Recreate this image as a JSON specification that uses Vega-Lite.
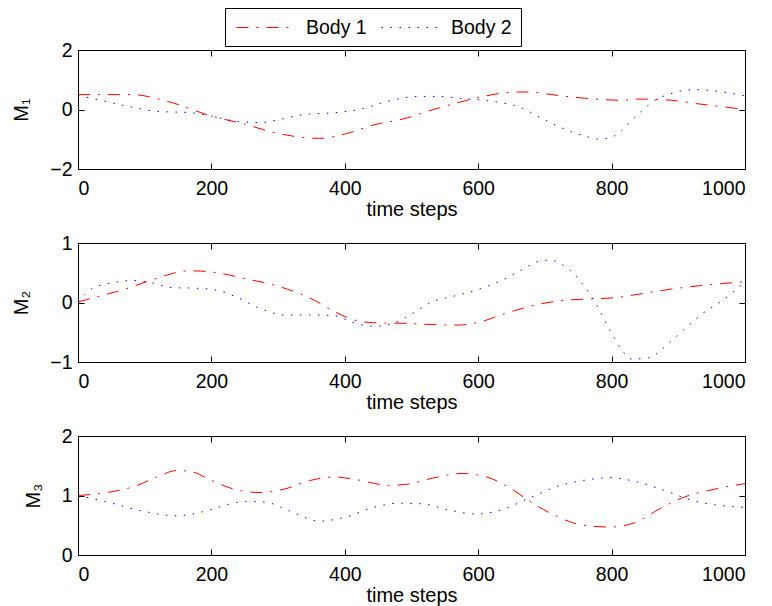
{
  "$schema": "https://vega.github.io/schema/vega-lite/v6.json",
  "padding": {"left": 11, "top": 7, "right": 4, "bottom": 4},
  "background": "white",
  "config": {
    "font": "Liberation Sans",
    "view": {"stroke": "#000000", "strokeWidth": 1},
    "axis": {
      "labelFont": "Liberation Sans", "labelFontSize": 19.5, "labelColor": "#000000",
      "titleFont": "Liberation Sans", "titleFontSize": 20, "titleFontWeight": "normal", "titleColor": "#000000",
      "grid": false, "domain": false, "tickColor": "#000000", "tickSize": -6, "tickWidth": 1,
      "labelPadding": 12
    },
    "axisX": {"labelPadding": 16, "titlePadding": 2, "format": "d"},
    "axisY": {"titlePadding": 18, "format": "d"},
    "line": {"strokeWidth": 1}
  },
  "datasets": {
    "m1": [
      {"t": 0, "v": 0.5, "body": "Body 1"}, {"t": 81, "v": 0.5, "body": "Body 1"}, {"t": 133, "v": 0.28, "body": "Body 1"},
      {"t": 200, "v": -0.22, "body": "Body 1"}, {"t": 251, "v": -0.5, "body": "Body 1"}, {"t": 295, "v": -0.78, "body": "Body 1"},
      {"t": 362, "v": -0.97, "body": "Body 1"}, {"t": 399, "v": -0.83, "body": "Body 1"}, {"t": 443, "v": -0.52, "body": "Body 1"},
      {"t": 494, "v": -0.28, "body": "Body 1"}, {"t": 524, "v": -0.06, "body": "Body 1"}, {"t": 568, "v": 0.22, "body": "Body 1"},
      {"t": 598, "v": 0.39, "body": "Body 1"}, {"t": 650, "v": 0.58, "body": "Body 1"}, {"t": 672, "v": 0.59, "body": "Body 1"},
      {"t": 731, "v": 0.44, "body": "Body 1"}, {"t": 790, "v": 0.33, "body": "Body 1"}, {"t": 812, "v": 0.31, "body": "Body 1"},
      {"t": 841, "v": 0.35, "body": "Body 1"}, {"t": 878, "v": 0.33, "body": "Body 1"}, {"t": 930, "v": 0.19, "body": "Body 1"},
      {"t": 1000, "v": 0.0, "body": "Body 1"},
      {"t": 0, "v": 0.47, "body": "Body 2"}, {"t": 30, "v": 0.33, "body": "Body 2"}, {"t": 74, "v": 0.11, "body": "Body 2"},
      {"t": 118, "v": -0.06, "body": "Body 2"}, {"t": 170, "v": -0.11, "body": "Body 2"}, {"t": 200, "v": -0.22, "body": "Body 2"},
      {"t": 236, "v": -0.39, "body": "Body 2"}, {"t": 273, "v": -0.44, "body": "Body 2"}, {"t": 303, "v": -0.33, "body": "Body 2"},
      {"t": 339, "v": -0.17, "body": "Body 2"}, {"t": 384, "v": -0.11, "body": "Body 2"}, {"t": 421, "v": 0.0, "body": "Body 2"},
      {"t": 465, "v": 0.28, "body": "Body 2"}, {"t": 509, "v": 0.44, "body": "Body 2"}, {"t": 539, "v": 0.44, "body": "Body 2"},
      {"t": 576, "v": 0.37, "body": "Body 2"}, {"t": 620, "v": 0.28, "body": "Body 2"}, {"t": 664, "v": 0.06, "body": "Body 2"},
      {"t": 694, "v": -0.28, "body": "Body 2"}, {"t": 731, "v": -0.67, "body": "Body 2"}, {"t": 768, "v": -0.94, "body": "Body 2"},
      {"t": 782, "v": -1.0, "body": "Body 2"}, {"t": 804, "v": -0.89, "body": "Body 2"}, {"t": 834, "v": -0.28, "body": "Body 2"},
      {"t": 863, "v": 0.28, "body": "Body 2"}, {"t": 893, "v": 0.56, "body": "Body 2"}, {"t": 923, "v": 0.67, "body": "Body 2"},
      {"t": 952, "v": 0.63, "body": "Body 2"}, {"t": 1000, "v": 0.46, "body": "Body 2"}
    ],
    "m2": [
      {"t": 0, "v": 0.01, "body": "Body 1"}, {"t": 30, "v": 0.1, "body": "Body 1"}, {"t": 66, "v": 0.21, "body": "Body 1"},
      {"t": 103, "v": 0.35, "body": "Body 1"}, {"t": 133, "v": 0.46, "body": "Body 1"}, {"t": 162, "v": 0.53, "body": "Body 1"},
      {"t": 177, "v": 0.53, "body": "Body 1"}, {"t": 214, "v": 0.49, "body": "Body 1"}, {"t": 251, "v": 0.4, "body": "Body 1"},
      {"t": 295, "v": 0.29, "body": "Body 1"}, {"t": 325, "v": 0.18, "body": "Body 1"}, {"t": 354, "v": 0.04, "body": "Body 1"},
      {"t": 384, "v": -0.15, "body": "Body 1"}, {"t": 413, "v": -0.29, "body": "Body 1"}, {"t": 443, "v": -0.34, "body": "Body 1"},
      {"t": 487, "v": -0.35, "body": "Body 1"}, {"t": 531, "v": -0.37, "body": "Body 1"}, {"t": 568, "v": -0.38, "body": "Body 1"},
      {"t": 598, "v": -0.34, "body": "Body 1"}, {"t": 642, "v": -0.18, "body": "Body 1"}, {"t": 679, "v": -0.06, "body": "Body 1"},
      {"t": 723, "v": 0.03, "body": "Body 1"}, {"t": 768, "v": 0.06, "body": "Body 1"}, {"t": 804, "v": 0.08, "body": "Body 1"},
      {"t": 841, "v": 0.14, "body": "Body 1"}, {"t": 886, "v": 0.22, "body": "Body 1"}, {"t": 930, "v": 0.28, "body": "Body 1"},
      {"t": 1000, "v": 0.35, "body": "Body 1"},
      {"t": 0, "v": 0.01, "body": "Body 2"}, {"t": 22, "v": 0.24, "body": "Body 2"}, {"t": 52, "v": 0.33, "body": "Body 2"},
      {"t": 81, "v": 0.37, "body": "Body 2"}, {"t": 111, "v": 0.33, "body": "Body 2"}, {"t": 140, "v": 0.25, "body": "Body 2"},
      {"t": 177, "v": 0.24, "body": "Body 2"}, {"t": 207, "v": 0.21, "body": "Body 2"}, {"t": 236, "v": 0.1, "body": "Body 2"},
      {"t": 273, "v": -0.1, "body": "Body 2"}, {"t": 310, "v": -0.21, "body": "Body 2"}, {"t": 347, "v": -0.21, "body": "Body 2"},
      {"t": 384, "v": -0.22, "body": "Body 2"}, {"t": 413, "v": -0.34, "body": "Body 2"}, {"t": 443, "v": -0.4, "body": "Body 2"},
      {"t": 472, "v": -0.35, "body": "Body 2"}, {"t": 502, "v": -0.18, "body": "Body 2"}, {"t": 531, "v": 0.01, "body": "Body 2"},
      {"t": 561, "v": 0.1, "body": "Body 2"}, {"t": 598, "v": 0.21, "body": "Body 2"}, {"t": 635, "v": 0.37, "body": "Body 2"},
      {"t": 664, "v": 0.54, "body": "Body 2"}, {"t": 694, "v": 0.7, "body": "Body 2"}, {"t": 708, "v": 0.71, "body": "Body 2"},
      {"t": 731, "v": 0.6, "body": "Body 2"}, {"t": 760, "v": 0.26, "body": "Body 2"}, {"t": 782, "v": -0.13, "body": "Body 2"},
      {"t": 797, "v": -0.46, "body": "Body 2"}, {"t": 815, "v": -0.79, "body": "Body 2"}, {"t": 830, "v": -0.95, "body": "Body 2"},
      {"t": 856, "v": -0.93, "body": "Body 2"}, {"t": 878, "v": -0.76, "body": "Body 2"}, {"t": 908, "v": -0.46, "body": "Body 2"},
      {"t": 937, "v": -0.18, "body": "Body 2"}, {"t": 967, "v": 0.04, "body": "Body 2"}, {"t": 1000, "v": 0.35, "body": "Body 2"}
    ],
    "m3": [
      {"t": 0, "v": 1.0, "body": "Body 1"}, {"t": 44, "v": 1.05, "body": "Body 1"}, {"t": 89, "v": 1.17, "body": "Body 1"},
      {"t": 118, "v": 1.31, "body": "Body 1"}, {"t": 148, "v": 1.42, "body": "Body 1"}, {"t": 170, "v": 1.4, "body": "Body 1"},
      {"t": 199, "v": 1.26, "body": "Body 1"}, {"t": 236, "v": 1.1, "body": "Body 1"}, {"t": 273, "v": 1.05, "body": "Body 1"},
      {"t": 310, "v": 1.11, "body": "Body 1"}, {"t": 347, "v": 1.25, "body": "Body 1"}, {"t": 384, "v": 1.31, "body": "Body 1"},
      {"t": 421, "v": 1.26, "body": "Body 1"}, {"t": 465, "v": 1.17, "body": "Body 1"}, {"t": 494, "v": 1.19, "body": "Body 1"},
      {"t": 531, "v": 1.29, "body": "Body 1"}, {"t": 576, "v": 1.37, "body": "Body 1"}, {"t": 613, "v": 1.31, "body": "Body 1"},
      {"t": 650, "v": 1.11, "body": "Body 1"}, {"t": 679, "v": 0.89, "body": "Body 1"}, {"t": 716, "v": 0.66, "body": "Body 1"},
      {"t": 753, "v": 0.51, "body": "Body 1"}, {"t": 797, "v": 0.47, "body": "Body 1"}, {"t": 834, "v": 0.54, "body": "Body 1"},
      {"t": 871, "v": 0.77, "body": "Body 1"}, {"t": 908, "v": 0.97, "body": "Body 1"}, {"t": 952, "v": 1.1, "body": "Body 1"},
      {"t": 1000, "v": 1.2, "body": "Body 1"},
      {"t": 0, "v": 1.0, "body": "Body 2"}, {"t": 44, "v": 0.89, "body": "Body 2"}, {"t": 96, "v": 0.74, "body": "Body 2"},
      {"t": 148, "v": 0.66, "body": "Body 2"}, {"t": 192, "v": 0.74, "body": "Body 2"}, {"t": 229, "v": 0.86, "body": "Body 2"},
      {"t": 251, "v": 0.9, "body": "Body 2"}, {"t": 280, "v": 0.89, "body": "Body 2"}, {"t": 317, "v": 0.74, "body": "Body 2"},
      {"t": 362, "v": 0.57, "body": "Body 2"}, {"t": 399, "v": 0.63, "body": "Body 2"}, {"t": 443, "v": 0.8, "body": "Body 2"},
      {"t": 480, "v": 0.87, "body": "Body 2"}, {"t": 517, "v": 0.86, "body": "Body 2"}, {"t": 554, "v": 0.76, "body": "Body 2"},
      {"t": 598, "v": 0.69, "body": "Body 2"}, {"t": 635, "v": 0.76, "body": "Body 2"}, {"t": 679, "v": 0.97, "body": "Body 2"},
      {"t": 723, "v": 1.17, "body": "Body 2"}, {"t": 768, "v": 1.27, "body": "Body 2"}, {"t": 797, "v": 1.3, "body": "Body 2"},
      {"t": 834, "v": 1.24, "body": "Body 2"}, {"t": 878, "v": 1.09, "body": "Body 2"}, {"t": 923, "v": 0.91, "body": "Body 2"},
      {"t": 1000, "v": 0.8, "body": "Body 2"}
    ]
  },
  "resolve": {"legend": {"color": "independent", "strokeDash": "independent"}},
  "spacing": 74,
  "bounds": "flush",
  "vconcat": [
    {
      "width": 667, "height": 119,
      "layer": [
        {
          "data": {"name": "m1"},
          "mark": {"type": "line", "interpolate": "monotone", "strokeWidth": 1},
          "encoding": {
            "x": {"field": "t", "type": "quantitative", "scale": {"domain": [0, 1000], "nice": false}, "axis": {"values": [0, 200, 400, 600, 800, 1000], "title": "time steps"}},
            "y": {"field": "v", "type": "quantitative", "scale": {"domain": [-2, 2], "nice": false, "zero": false}, "axis": {"values": [-2, 0, 2], "title": "M₁"}},
            "color": {"field": "body", "type": "nominal", "scale": {"domain": ["Body 1", "Body 2"], "range": ["#ff0000", "#0000ff"]},
              "legend": {"orient": "none", "legendX": 147, "legendY": -42, "direction": "horizontal", "title": null,
                "symbolType": "M-3,0H3", "symbolSize": 400, "symbolOffset": 22, "symbolStrokeWidth": 1,
                "labelFontSize": 19.5, "labelFont": "Liberation Sans", "labelColor": "#000000",
                "strokeColor": "#000000", "fillColor": "#ffffff", "padding": 9, "columnPadding": 12, "labelOffset": 29}},
            "strokeDash": {"field": "body", "type": "nominal", "scale": {"domain": ["Body 1", "Body 2"], "range": [[12, 8, 2, 8], [1.5, 7.5]]},
              "legend": {"orient": "none", "legendX": 147, "legendY": -42, "direction": "horizontal", "title": null,
                "symbolType": "M-3,0H3", "symbolSize": 400, "symbolOffset": 22, "symbolStrokeWidth": 1,
                "labelFontSize": 19.5, "labelFont": "Liberation Sans", "labelColor": "#000000",
                "strokeColor": "#000000", "fillColor": "#ffffff", "padding": 9, "columnPadding": 12, "labelOffset": 29}}
          }
        },
        {
          "data": {"name": "m1"},
          "mark": {"type": "point", "opacity": 0},
          "encoding": {
            "x": {"field": "t", "type": "quantitative", "axis": {"orient": "top", "values": [0, 200, 400, 600, 800, 1000], "labels": false, "title": null}},
            "y": {"field": "v", "type": "quantitative", "axis": {"orient": "right", "values": [-2, 0, 2], "labels": false, "title": null}}
          }
        }
      ],
      "resolve": {"axis": {"x": "independent", "y": "independent"}}
    },
    {
      "width": 667, "height": 119,
      "layer": [
        {
          "data": {"name": "m2"},
          "mark": {"type": "line", "interpolate": "monotone", "strokeWidth": 1},
          "encoding": {
            "x": {"field": "t", "type": "quantitative", "scale": {"domain": [0, 1000], "nice": false}, "axis": {"values": [0, 200, 400, 600, 800, 1000], "title": "time steps"}},
            "y": {"field": "v", "type": "quantitative", "scale": {"domain": [-1, 1], "nice": false, "zero": false}, "axis": {"values": [-1, 0, 1], "title": "M₂"}},
            "color": {"field": "body", "type": "nominal", "scale": {"domain": ["Body 1", "Body 2"], "range": ["#ff0000", "#0000ff"]}, "legend": null},
            "strokeDash": {"field": "body", "type": "nominal", "scale": {"domain": ["Body 1", "Body 2"], "range": [[12, 8, 2, 8], [1.5, 7.5]]}, "legend": null}
          }
        },
        {
          "data": {"name": "m2"},
          "mark": {"type": "point", "opacity": 0},
          "encoding": {
            "x": {"field": "t", "type": "quantitative", "axis": {"orient": "top", "values": [0, 200, 400, 600, 800, 1000], "labels": false, "title": null}},
            "y": {"field": "v", "type": "quantitative", "axis": {"orient": "right", "values": [-1, 0, 1], "labels": false, "title": null}}
          }
        }
      ],
      "resolve": {"axis": {"x": "independent", "y": "independent"}}
    },
    {
      "width": 667, "height": 119,
      "layer": [
        {
          "data": {"name": "m3"},
          "mark": {"type": "line", "interpolate": "monotone", "strokeWidth": 1},
          "encoding": {
            "x": {"field": "t", "type": "quantitative", "scale": {"domain": [0, 1000], "nice": false}, "axis": {"values": [0, 200, 400, 600, 800, 1000], "title": "time steps"}},
            "y": {"field": "v", "type": "quantitative", "scale": {"domain": [0, 2], "nice": false, "zero": false}, "axis": {"values": [0, 1, 2], "title": "M₃"}},
            "color": {"field": "body", "type": "nominal", "scale": {"domain": ["Body 1", "Body 2"], "range": ["#ff0000", "#0000ff"]}, "legend": null},
            "strokeDash": {"field": "body", "type": "nominal", "scale": {"domain": ["Body 1", "Body 2"], "range": [[12, 8, 2, 8], [1.5, 7.5]]}, "legend": null}
          }
        },
        {
          "data": {"name": "m3"},
          "mark": {"type": "point", "opacity": 0},
          "encoding": {
            "x": {"field": "t", "type": "quantitative", "axis": {"orient": "top", "values": [0, 200, 400, 600, 800, 1000], "labels": false, "title": null}},
            "y": {"field": "v", "type": "quantitative", "axis": {"orient": "right", "values": [0, 1, 2], "labels": false, "title": null}}
          }
        }
      ],
      "resolve": {"axis": {"x": "independent", "y": "independent"}}
    }
  ]
}
